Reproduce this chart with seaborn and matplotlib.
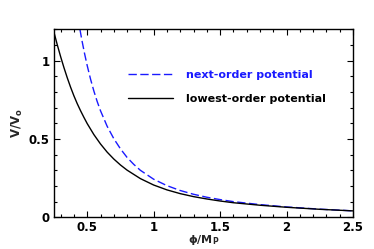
import numpy as np
import pandas as pd
import matplotlib
matplotlib.use("Agg")
import matplotlib.pyplot as plt
import seaborn as sns
from matplotlib.ticker import MultipleLocator

phi_low = [0.25, 0.275, 0.30, 0.325, 0.35, 0.375, 0.40, 0.425, 0.45, 0.475, 0.50,
           0.55, 0.60, 0.65, 0.70, 0.75, 0.80, 0.90, 1.00, 1.10, 1.20, 1.30, 1.40,
           1.50, 1.60, 1.80, 2.00, 2.25, 2.50]
V_low = [1.18, 1.10, 1.025, 0.955, 0.89, 0.83, 0.775, 0.725, 0.68, 0.638, 0.598,
         0.528, 0.468, 0.416, 0.372, 0.334, 0.301, 0.247, 0.206, 0.175, 0.151, 0.132, 0.117,
         0.104, 0.093, 0.077, 0.064, 0.051, 0.041]

phi_next = [0.445, 0.46, 0.48, 0.50, 0.525, 0.55, 0.575, 0.60, 0.65, 0.70, 0.75, 0.80,
            0.85, 0.90, 1.00, 1.10, 1.20, 1.30, 1.40, 1.50, 1.60, 1.80, 2.00, 2.25, 2.50]
V_next = [1.20, 1.13, 1.045, 0.968, 0.882, 0.806, 0.739, 0.680, 0.581, 0.502, 0.437, 0.382,
          0.338, 0.300, 0.243, 0.202, 0.171, 0.147, 0.128, 0.113, 0.100, 0.081, 0.066, 0.052, 0.041]

labels = ["next-order potential", "lowest-order potential"]

df = pd.concat([
    pd.DataFrame({"phi": phi_next, "V": V_next, "series": labels[0]}),
    pd.DataFrame({"phi": phi_low, "V": V_low, "series": labels[1]}),
])

sns.set_style("ticks")
plt.rcParams["font.family"] = ["DejaVu Sans"]
plt.rcParams["mathtext.fontset"] = "dejavusans"

BLUE = "#1a1aff"

fig = plt.figure(figsize=(3.74, 2.49), dpi=100)
ax = fig.add_axes([54 / 374, 1 - 217.3 / 249, 299 / 374, 188 / 249])

sns.lineplot(data=df, x="phi", y="V", hue="series", style="series",
             palette={labels[0]: BLUE, labels[1]: "black"},
             dashes={labels[0]: (6, 2.5), labels[1]: ""},
             linewidth=1.0, ax=ax, sort=False, estimator=None)

ax.set_xlim(0.25, 2.5)
ax.set_ylim(0, 1.2)
ax.xaxis.set_major_locator(MultipleLocator(0.5))
ax.xaxis.set_minor_locator(MultipleLocator(0.1))
ax.yaxis.set_major_locator(MultipleLocator(0.5))
ax.yaxis.set_minor_locator(MultipleLocator(0.1))
ax.xaxis.set_major_formatter(plt.FuncFormatter(lambda v, p: f"{v:g}"))
ax.yaxis.set_major_formatter(plt.FuncFormatter(lambda v, p: f"{v:g}"))
ax.tick_params(which="both", direction="in", top=True, right=True, labelsize=8.5,
               width=0.8, colors="black")
ax.tick_params(which="major", length=4, pad=3)
ax.tick_params(axis="x", which="major", pad=2.5)
ax.tick_params(which="minor", length=2)
for lab in ax.get_xticklabels() + ax.get_yticklabels():
    lab.set_fontweight("bold")
for s in ax.spines.values():
    s.set_linewidth(1.0)
    s.set_color("black")

ax.set_xlabel(r"$\mathbf{\phi}$/M$_\mathbf{P}$", fontsize=8, labelpad=-0.5, fontweight="bold")
ax.set_ylabel(r"V/V$_\mathbf{o}$", fontsize=8.5, labelpad=3, fontweight="bold")

leg = ax.legend(loc="upper left", bbox_to_anchor=(0.215, 0.835), frameon=False,
                fontsize=8, handlelength=4.0, handletextpad=1.2, labelspacing=1.25)
for t, c in zip(leg.get_texts(), [BLUE, "black"]):
    t.set_color(c)
    t.set_fontweight("bold")

fig.savefig("out.png", dpi=100)
